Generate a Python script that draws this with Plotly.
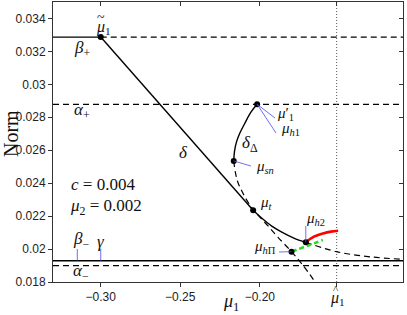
import plotly.graph_objects as go

# ---------------- data ----------------
mu1_tilde = -0.30
mu1_hat = -0.1517
beta_plus = 0.03287
alpha_plus = 0.02879
beta_minus = 0.01929
alpha_minus = 0.01899

# solid branch delta (from mu1_tilde through mu_t to mu_h2)
delta_x = [-0.30, -0.2042, -0.1981, -0.1925, -0.1862, -0.1786, -0.1711]
delta_y = [0.03287, 0.02236, 0.02182, 0.02139, 0.02103, 0.02067, 0.02041]

# solid branch delta_Delta (mu1' down to mu_sn)
deltaD_x = [-0.2017, -0.2057, -0.2094, -0.2126, -0.2147, -0.2159, -0.2164]
deltaD_y = [0.02879, 0.02830, 0.02764, 0.02703, 0.02649, 0.02594, 0.02535]

# dashed branch from mu_sn down through mu_hPi
sn_x = [-0.2164, -0.2154, -0.2138, -0.2113, -0.2082, -0.2042, -0.2000, -0.1950, -0.1887, -0.1801, -0.1730, -0.1648]
sn_y = [0.02535, 0.02467, 0.02406, 0.02352, 0.02297, 0.02239, 0.02194, 0.02142, 0.02073, 0.01984, 0.01903, 0.01794]

# dashed branch from mu_h2 to the right
h2_x = [-0.1711, -0.1518, -0.1308, -0.1101]
h2_y = [0.02041, 0.01984, 0.01953, 0.01938]

# red branch
red_x = [-0.1711, -0.1660, -0.1602, -0.1553, -0.1508]
red_y = [0.02041, 0.02075, 0.02095, 0.02106, 0.02111]

# green dashed branch
green_x = [-0.1801, -0.1700, -0.1604]
green_y = [0.01984, 0.02020, 0.02055]

# special points
pt_names = ["mu1_tilde", "mu1_prime", "mu_sn", "mu_t", "mu_hPi", "mu_h2"]
pt_x = [-0.30, -0.2017, -0.2164, -0.2042, -0.1801, -0.1711]
pt_y = [0.03287, 0.02879, 0.02535, 0.02236, 0.01984, 0.02041]

x_tick_vals = [-0.30, -0.25, -0.20]
x_tick_text = ["\u22120.30", "\u22120.25", "\u22120.20"]
y_tick_vals = [0.018, 0.020, 0.022, 0.024, 0.026, 0.028, 0.030, 0.032, 0.034]
y_tick_text = ["0.018", "0.02", "0.022", "0.024", "0.026", "0.028", "0.03", "0.032", "0.034"]

# ---------------- layout geometry ----------------
W, H = 407, 315
ML, MR, MT, MB = 53, 4, 2, 33
X0, X1 = -0.33, -0.11
Y0, Y1 = 0.018, 0.035
PW = W - ML - MR
PH = H - MT - MB


def px2x(px):
    return X0 + (px - ML) / PW * (X1 - X0)


def py2y(py):
    return Y1 - (py - MT) / PH * (Y1 - Y0)


def x2px(x):
    return ML + (x - X0) / (X1 - X0) * PW


BLACK = "#000000"
BLUE = "#4a4af0"
DASH = "6px,4px"
SERIF = "Liberation Serif"
SANS = "Liberation Sans"
TXT = "#111111"

fig = go.Figure()


def line(x, y, color=BLACK, width=1.4, dash=None, shape="linear"):
    fig.add_trace(go.Scatter(x=x, y=y, mode="lines",
                             line=dict(color=color, width=width, dash=dash, shape=shape),
                             hoverinfo="skip", showlegend=False))


# horizontal reference lines
line([X0, mu1_tilde], [beta_plus, beta_plus])
line([mu1_tilde, X1], [beta_plus, beta_plus], dash=DASH, width=1.2)
line([X0, X1], [alpha_plus, alpha_plus], dash=DASH, width=1.2)
line([X0, X1], [beta_minus, beta_minus], width=1.4)
line([X0, X1], [alpha_minus, alpha_minus], dash=DASH, width=1.2)
# vertical dotted line at mu1_hat
line([mu1_hat, mu1_hat], [Y0, Y1], color="#555555", width=1, dash="1px,2px")

# branches
line(sn_x, sn_y, dash=DASH, width=1.2, shape="spline")
line(h2_x, h2_y, dash=DASH, width=1.2, shape="spline")
line(delta_x[:2], delta_y[:2], width=1.4)
line(delta_x[1:], delta_y[1:], width=1.4, shape="spline")
line(deltaD_x, deltaD_y, width=1.4, shape="spline")
line(green_x, green_y, color="#22dd22", width=2.6, dash="5px,3px", shape="spline")
line(red_x, red_y, color="#ff0000", width=2.6, shape="spline")

# points
fig.add_trace(go.Scatter(x=pt_x, y=pt_y, mode="markers",
                         marker=dict(color=BLACK, size=6),
                         hoverinfo="skip", showlegend=False))

# invisible trace on mirror axes
fig.add_trace(go.Scatter(x=[X0], y=[Y0], xaxis="x2", yaxis="y2", mode="markers",
                         marker=dict(opacity=0), hoverinfo="skip", showlegend=False))


def label(text, px, py, size=15, family=SERIF):
    fig.add_annotation(x=px2x(px), y=py2y(py), xref="x", yref="y", text=text,
                       showarrow=False, font=dict(family=family, size=size, color=TXT),
                       xanchor="center", yanchor="middle")


def leader(xa, ya, px_b, py_b):
    fig.add_shape(type="line", x0=xa, y0=ya, x1=px2x(px_b), y1=py2y(py_b),
                  xref="x", yref="y", line=dict(color=BLUE, width=0.8))


P = dict(zip(pt_names, zip(pt_x, pt_y)))

# labels on reference lines
label("<i>\u03bc</i><sub>1</sub>", 103, 27, 16)
label("~", 101, 17, 14)
label("<i>\u03b2</i><sub>+</sub>", 82, 49, 17)
label("<i>\u03b1</i><sub>+</sub>", 82, 111, 17)
label("<i>\u03b2</i><sub>\u2212</sub>", 81, 240, 17)
label("<i>\u03b3</i>", 101, 241, 17)
label("<i>\u03b1</i><sub>\u2212</sub>", 81, 272, 17)
leader(px2x(77.3), beta_minus, 77.3, 249)
leader(mu1_tilde, beta_minus, x2px(mu1_tilde), 249)

label("<i>\u03b4</i>", 183, 152, 17)
label("<i>\u03b4</i><sub>\u0394</sub>", 250, 144, 17)

# mu labels with blue leaders
mx, my = P["mu1_prime"]
label("<i>\u03bc</i>\u2032<sub>1</sub>", 285, 114, 15)
leader(mx, my, 275, 118)
label("<i>\u03bc</i><sub><i>h</i>1</sub>", 290, 129, 15)
leader(mx, my, 276, 133)

mx, my = P["mu_sn"]
label("<i>\u03bc</i><sub><i>sn</i></sub>", 265, 167, 15)
leader(mx, my, 251, 166)

label("<i>\u03bc</i><sub><i>t</i></sub>", 266, 203, 15)

mx, my = P["mu_hPi"]
label("<i>\u03bc</i><sub><i>h</i>\u03a0</sub>", 265, 247, 15)
leader(mx, my, 279, 252)

mx, my = P["mu_h2"]
label("<i>\u03bc</i><sub><i>h</i>2</sub>", 315, 219, 15)
leader(mx, my, x2px(mx), 226)

# parameter text
label("<i>c</i> = 0.004", 103, 184, 17)
label("<i>\u03bc</i><sub>2</sub> = 0.002", 106, 207, 17)

# axis labels (below the plot, in paper coords)
fig.add_annotation(x=mu1_hat, y=0, xref="x", yref="paper", yshift=-16, xshift=1,
                   text="<i>\u03bc</i><sub>1</sub>", showarrow=False,
                   font=dict(family=SERIF, size=16, color=TXT), yanchor="middle")
fig.add_annotation(x=mu1_hat, y=0, xref="x", yref="paper", yshift=-7, xshift=-1,
                   text="^", showarrow=False,
                   font=dict(family=SERIF, size=11, color=TXT), yanchor="middle")
fig.add_annotation(x=px2x(231), y=0, xref="x", yref="paper", yshift=-20,
                   text="<i>\u03bc</i><sub>1</sub>", showarrow=False,
                   font=dict(family=SERIF, size=18, color=TXT), yanchor="middle")
fig.add_annotation(x=0, y=py2y(134), xref="paper", yref="y", xshift=-42,
                   text="Norm", textangle=-90, showarrow=False,
                   font=dict(family=SERIF, size=20, color=TXT), xanchor="center")

axis_common = dict(showgrid=False, zeroline=False, showline=True, linecolor="#333333",
                   linewidth=1, ticklen=4, tickcolor="#333333",
                   tickfont=dict(family=SANS, size=12, color="#222222"))

fig.update_layout(
    width=W, height=H,
    margin=dict(l=ML, r=MR, t=MT, b=MB),
    paper_bgcolor="white", plot_bgcolor="white",
    xaxis=dict(range=[X0, X1], autorange=False, tickvals=x_tick_vals + [mu1_hat],
               ticktext=x_tick_text + [""], ticks="outside", **axis_common),
    yaxis=dict(range=[Y0, Y1], autorange=False, tickvals=y_tick_vals,
               ticktext=y_tick_text, ticks="outside", **axis_common),
    xaxis2=dict(range=[X0, X1], autorange=False, overlaying="x", side="top",
                tickvals=x_tick_vals + [mu1_hat], ticks="inside", showticklabels=False,
                **axis_common),
    yaxis2=dict(range=[Y0, Y1], autorange=False, overlaying="y", side="right",
                tickvals=y_tick_vals, ticks="inside", showticklabels=False,
                **axis_common),
)

fig.write_html("out.html", config={"displayModeBar": False},
               post_script="document.body.style.margin='0';")
